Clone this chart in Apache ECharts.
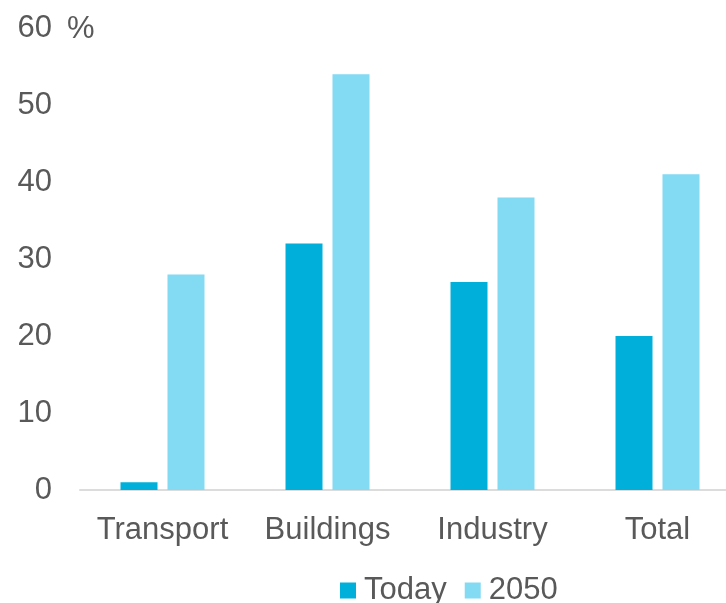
<!DOCTYPE html>
<html>
<head>
<meta charset="utf-8">
<script src="https://cdn.jsdelivr.net/npm/echarts@6/dist/echarts.min.js"></script>
<style>
  html, body { margin: 0; padding: 0; background: #fff; }
  #main { width: 726px; height: 603px; }
</style>
</head>
<body>
<div id="main"></div>
<script>
// categories and values
var sectors = ['Transport', 'Buildings', 'Industry', 'Total'];
var todayData = [1, 32, 27, 20];
var data2050 = [28, 54, 38, 41];
var yTicks = { min: 0, max: 60, step: 10 };

var textColor = '#595959';
var fontFam = '"Liberation Sans", Arial, sans-serif';

var myChart = echarts.init(document.getElementById('main'));

var option = {
    animation: false,
    textStyle: { fontFamily: fontFam },
    grid: {
        left: 80,
        width: 660,
        top: 28,
        bottom: 113,
        outerBoundsMode: 'none'   // let the last category run past the right edge
    },
    legend: {
        left: 335,
        top: 570,
        itemWidth: 16,
        itemHeight: 16,
        itemGap: 18,
        icon: 'rect',
        textStyle: { fontSize: 31, color: textColor, fontFamily: fontFam, padding: [0, 0, 0, 3] },
        data: ['Today', '2050']
    },
    xAxis: {
        type: 'category',
        data: sectors,
        axisLine: { lineStyle: { color: '#dcdcdc', width: 2 } },
        axisTick: { show: false },
        axisLabel: { fontSize: 31, interval: 0, color: textColor, margin: 25, fontFamily: fontFam }
    },
    yAxis: {
        type: 'value',
        min: yTicks.min,
        max: yTicks.max,
        interval: yTicks.step,
        splitLine: { show: false },
        axisLine: { show: false },
        axisTick: { show: false },
        axisLabel: { fontSize: 31, color: textColor, margin: 28, fontFamily: fontFam }
    },
    graphic: [{
        type: 'text',
        left: 67,
        top: 14,
        style: { text: '%', fontSize: 31, fill: textColor, fontFamily: fontFam }
    }],
    series: [{
        name: 'Today',
        type: 'bar',
        data: todayData,
        barWidth: 37,
        barGap: '27%',
        itemStyle: { color: '#00B0DB' }
    }, {
        name: '2050',
        type: 'bar',
        data: data2050,
        barWidth: 37,
        itemStyle: { color: '#82DAF3' }
    }]
};
myChart.setOption(option);
</script>
</body>
</html>
